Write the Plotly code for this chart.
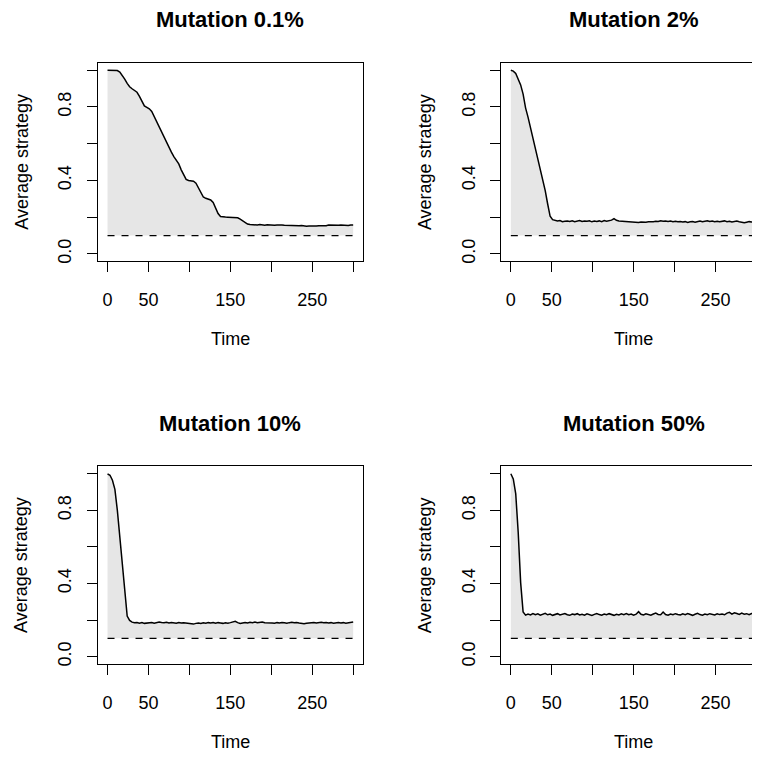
import plotly.graph_objects as go

# time axis, sampled every 3 steps
time = list(range(0, 301, 3))

# average strategy (one list per mutation rate)
mut_01 = [
    1.000, 1.000, 1.000, 1.000, 0.998, 0.990, 0.974, 0.952, 0.928, 0.910,
    0.899, 0.890, 0.880, 0.858, 0.828, 0.806, 0.798, 0.790, 0.776, 0.748,
    0.716, 0.688, 0.661, 0.634, 0.607, 0.580, 0.554, 0.530, 0.510, 0.490,
    0.458, 0.428, 0.406, 0.400, 0.399, 0.396, 0.385, 0.362, 0.336, 0.310,
    0.303, 0.298, 0.294, 0.280, 0.252, 0.220, 0.204, 0.201, 0.201, 0.200,
    0.200, 0.200, 0.199, 0.197, 0.190, 0.180, 0.170, 0.163, 0.160, 0.158,
    0.159, 0.158, 0.160, 0.158, 0.157, 0.159, 0.157, 0.158, 0.156, 0.157,
    0.155, 0.157, 0.156, 0.155, 0.157, 0.155, 0.156, 0.155, 0.153, 0.155,
    0.152, 0.151, 0.152, 0.151, 0.153, 0.152, 0.154, 0.153, 0.155, 0.154,
    0.157, 0.156, 0.155, 0.157, 0.156, 0.158, 0.156, 0.157, 0.155, 0.158,
    0.158,
]
mut_2 = [
    1.000, 0.995, 0.982, 0.955, 0.920, 0.870, 0.795, 0.745, 0.690, 0.625,
    0.565, 0.510, 0.460, 0.405, 0.345, 0.272, 0.205, 0.187, 0.181, 0.179,
    0.182, 0.176, 0.178, 0.180, 0.177, 0.181, 0.176, 0.178, 0.182, 0.177,
    0.180, 0.178, 0.181, 0.175, 0.179, 0.177, 0.180, 0.176, 0.182, 0.178,
    0.180, 0.184, 0.192, 0.183, 0.180, 0.179, 0.176, 0.178, 0.174, 0.176,
    0.172, 0.173, 0.171, 0.174, 0.172, 0.173, 0.175, 0.174, 0.176, 0.178,
    0.177, 0.181, 0.178, 0.180, 0.177, 0.179, 0.176, 0.178, 0.175, 0.177,
    0.174, 0.176, 0.172, 0.175, 0.177, 0.173, 0.176, 0.179, 0.175, 0.178,
    0.181, 0.177, 0.179, 0.176, 0.178, 0.175, 0.177, 0.180, 0.176, 0.178,
    0.174, 0.176, 0.179, 0.175, 0.172, 0.170, 0.173, 0.176, 0.174, 0.177,
    0.178,
]
mut_10 = [
    1.000, 0.992, 0.965, 0.915, 0.800, 0.655, 0.485, 0.330, 0.222, 0.198,
    0.189, 0.185, 0.187, 0.183, 0.186, 0.182, 0.185, 0.184, 0.187, 0.183,
    0.186, 0.190, 0.187, 0.185, 0.188, 0.184, 0.187, 0.185, 0.183, 0.187,
    0.184, 0.186, 0.183, 0.181, 0.179, 0.178, 0.182, 0.184, 0.181, 0.185,
    0.183, 0.186, 0.184, 0.187, 0.183, 0.186, 0.184, 0.182, 0.185, 0.183,
    0.186, 0.189, 0.193, 0.186, 0.181, 0.184, 0.187, 0.184, 0.188, 0.186,
    0.189, 0.185, 0.188, 0.190, 0.186, 0.184, 0.182, 0.184, 0.183, 0.186,
    0.184, 0.187, 0.185, 0.183, 0.186, 0.188, 0.185, 0.187, 0.184, 0.182,
    0.180, 0.183, 0.185, 0.184, 0.187, 0.184, 0.186, 0.188, 0.185, 0.187,
    0.184, 0.186, 0.183, 0.185, 0.187, 0.184, 0.186, 0.183, 0.185, 0.187,
    0.189,
]
mut_50 = [
    1.000, 0.972, 0.890, 0.680, 0.405, 0.244, 0.227, 0.233, 0.228, 0.236,
    0.229, 0.234, 0.227, 0.232, 0.237, 0.229, 0.233, 0.226, 0.231, 0.235,
    0.228, 0.232, 0.236, 0.229, 0.226, 0.233, 0.230, 0.235, 0.228, 0.232,
    0.227, 0.234, 0.229, 0.225, 0.231, 0.236, 0.230, 0.227, 0.233, 0.229,
    0.235, 0.231, 0.226, 0.232, 0.228, 0.234, 0.230, 0.236, 0.229, 0.233,
    0.227, 0.232, 0.246, 0.232, 0.228, 0.234, 0.230, 0.227, 0.233, 0.238,
    0.231, 0.229, 0.244, 0.230, 0.227, 0.233, 0.229, 0.235, 0.231, 0.228,
    0.234, 0.230, 0.236, 0.229, 0.226, 0.232, 0.237, 0.230, 0.227, 0.233,
    0.229, 0.235, 0.231, 0.228, 0.234, 0.230, 0.233, 0.229, 0.238, 0.242,
    0.233, 0.240, 0.236, 0.231, 0.238, 0.232, 0.235, 0.229, 0.236, 0.232,
    0.231,
]

series = [mut_01, mut_2, mut_10, mut_50]
titles = ["Mutation 0.1%", "Mutation 2%", "Mutation 10%", "Mutation 50%"]
baseline = 0.1

x_ticks = [0, 50, 100, 150, 200, 250, 300]
x_labels = ["0", "50", "", "150", "", "250", ""]
y_ticks = [0, 0.2, 0.4, 0.6, 0.8, 1.0]
y_labels = ["0.0", "", "0.4", "", "0.8", ""]

W, H = 760, 758
PAGE_OFFSET = 8  # the page body adds 8px margin around the plot div
FONT = "Liberation Sans, Arial, Helvetica, sans-serif"

# panel boxes in page pixels: left, right, top, bottom (right column runs off the page)
boxes = [
    (97.7, 363.0, 63.0, 262.0),
    (501.0, W + PAGE_OFFSET, 63.0, 262.0),
    (97.7, 363.0, 467.7, 665.7),
    (501.0, W + PAGE_OFFSET, 467.7, 665.7),
]
px_per_unit = 265.3 / 324.0


def px2x(p):
    return (p - PAGE_OFFSET) / W


def px2y(p):
    return 1 - (p - PAGE_OFFSET) / H


fig = go.Figure()
annotations = []

for i, (ys, title, box) in enumerate(zip(series, titles, boxes)):
    n = i + 1
    xa, ya = "x%d" % n, "y%d" % n
    left, right, top, bottom = box
    x_end = -12 + (right - left) / px_per_unit
    right_col = i % 2 == 1

    # invisible baseline, then the curve filled down to it
    fig.add_trace(go.Scatter(x=time, y=[baseline] * len(time), mode="lines",
                             line=dict(width=0, color="rgba(0,0,0,0)"),
                             showlegend=False, hoverinfo="skip", xaxis=xa, yaxis=ya))
    fig.add_trace(go.Scatter(x=time, y=ys, mode="lines", fill="tonexty",
                             fillcolor="#E6E6E6", line=dict(color="black", width=1.5),
                             showlegend=False, name=title, xaxis=xa, yaxis=ya))
    fig.add_trace(go.Scatter(x=[time[0], time[-1]], y=[baseline, baseline], mode="lines",
                             line=dict(color="black", width=1.3, dash="7px,7px"),
                             showlegend=False, hoverinfo="skip", xaxis=xa, yaxis=ya))

    axis_common = dict(showgrid=False, zeroline=False, showline=True, linecolor="black",
                       linewidth=1.3, ticks="outside", ticklen=10, tickwidth=1.3,
                       tickcolor="black", tickfont=dict(size=18, color="black", family=FONT))
    fig.layout["xaxis%d" % n] = dict(axis_common, domain=[px2x(left), px2x(right)],
                                     range=[-12, x_end], anchor=ya, mirror=True,
                                     tickvals=x_ticks, ticktext=x_labels,
                                     ticklabelstandoff=12)
    fig.layout["yaxis%d" % n] = dict(axis_common, domain=[px2y(bottom), px2y(top)],
                                     range=[-0.04, 1.04], anchor=xa, mirror=not right_col,
                                     tickvals=y_ticks, ticktext=y_labels, tickangle=-90,
                                     ticklabelstandoff=8)

    x_mid = left + (150 + 12) * px_per_unit
    annotations.append(dict(text="<b>%s</b>" % title, x=px2x(x_mid), y=px2y(top - 43.5),
                            xref="paper", yref="paper", showarrow=False,
                            xanchor="center", yanchor="middle",
                            font=dict(size=22, color="black", family=FONT)))
    annotations.append(dict(text="Time", x=px2x(x_mid), y=px2y(bottom + 78),
                            xref="paper", yref="paper", showarrow=False,
                            xanchor="center", yanchor="middle",
                            font=dict(size=18, color="black", family=FONT)))
    annotations.append(dict(text="Average strategy", x=px2x(left - 76), y=px2y((top + bottom) / 2),
                            xref="paper", yref="paper", showarrow=False, textangle=-90,
                            xanchor="center", yanchor="middle",
                            font=dict(size=18, color="black", family=FONT)))

fig.update_layout(width=W, height=H, autosize=False,
                  margin=dict(l=0, r=0, t=0, b=0),
                  paper_bgcolor="white", plot_bgcolor="white",
                  font=dict(family=FONT, color="black"),
                  annotations=annotations, showlegend=False)

fig.write_html("out.html")
